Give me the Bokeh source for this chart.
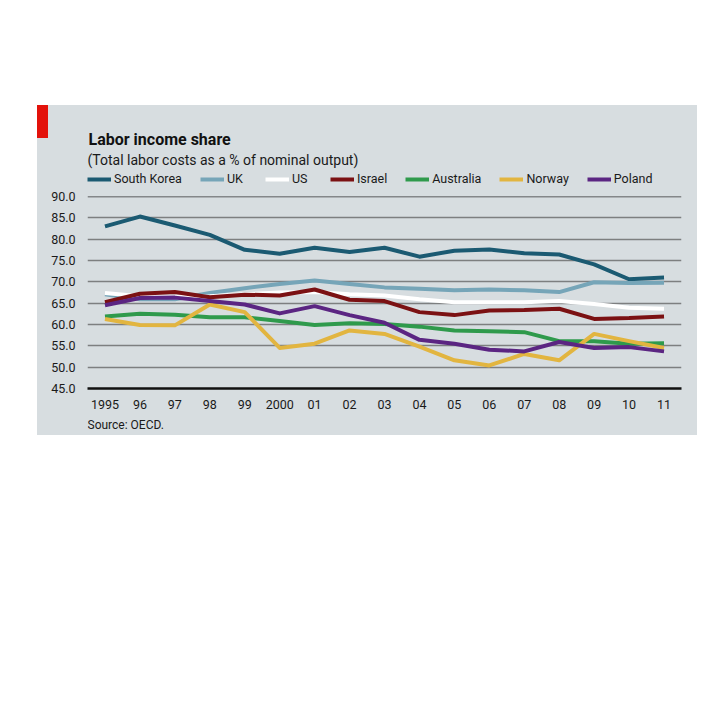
from bokeh.plotting import figure
from bokeh.models import (Range1d, FixedTicker, Label, Legend, LegendItem,
                          Spacer, NumeralTickFormatter, Span, Div)
from bokeh.layouts import column, row
from bokeh.embed import file_html
from bokeh.resources import INLINE

years = list(range(1995, 2012))
x_tick_labels = ["1995", "96", "97", "98", "99", "2000", "01", "02", "03",
                 "04", "05", "06", "07", "08", "09", "10", "11"]
y_ticks = [45, 50, 55, 60, 65, 70, 75, 80, 85, 90]

south_korea = [83.0, 85.3, 83.2, 81.0, 77.5, 76.6, 78.0, 77.0, 78.0, 75.9, 77.3, 77.6, 76.7, 76.4, 74.1, 70.6, 71.0]
uk = [67.1, 65.9, 65.9, 67.4, 68.5, 69.5, 70.3, 69.5, 68.7, 68.4, 68.0, 68.2, 68.0, 67.6, 69.9, 69.7, 69.8]
us = [67.4, 66.6, 66.4, 66.6, 67.1, 67.5, 67.6, 67.1, 66.8, 65.9, 65.2, 65.2, 65.2, 65.5, 64.8, 63.9, 63.7]
israel = [65.2, 67.2, 67.6, 66.4, 67.0, 66.8, 68.2, 65.8, 65.5, 62.9, 62.2, 63.3, 63.4, 63.7, 61.3, 61.5, 61.9]
australia = [61.9, 62.5, 62.3, 61.7, 61.7, 60.8, 59.9, 60.3, 60.1, 59.5, 58.6, 58.4, 58.2, 56.1, 56.1, 55.5, 55.6]
norway = [61.3, 59.9, 59.8, 64.7, 62.9, 54.5, 55.5, 58.6, 57.8, 54.8, 51.6, 50.4, 53.1, 51.6, 57.8, 56.1, 54.5]
poland = [64.5, 66.2, 66.3, 65.5, 64.7, 62.6, 64.3, 62.2, 60.4, 56.4, 55.5, 54.1, 53.7, 55.9, 54.5, 54.7, 53.7]

series_names = ["South Korea", "UK", "US", "Israel", "Australia", "Norway", "Poland"]
series_values = [south_korea, uk, us, israel, australia, norway, poland]
series_colors = ["#1b5a72", "#76a5b8", "#ffffff", "#7b1113", "#2f9a4c", "#e2b540", "#5b2582"]

FONT = "Roboto"
BG = "#d7dde0"
TXT = "#1a1a1a"
W = 649
LEFT = 37
RIGHT = 16


def style(f):
    f.background_fill_color = BG
    f.border_fill_color = BG
    f.outline_line_color = None


def blank(height):
    f = figure(width=W, height=height, output_backend="svg",
               toolbar_location=None, x_axis_location=None,
               y_axis_location=None, x_range=Range1d(0, 1),
               y_range=Range1d(0, 1), min_border_left=LEFT,
               min_border_right=RIGHT, min_border_top=0, min_border_bottom=0)
    style(f)
    f.grid.grid_line_color = None
    return f


# ---- header: title, subtitle, legend ----
header = blank(81)
header.add_layout(Label(x=1, y=47, x_units="screen", y_units="screen",
                        text="Labor income share", text_font=FONT,
                        text_font_size="16px", text_font_style="bold",
                        text_color="#111111", text_baseline="alphabetic"))
header.add_layout(Label(x=0, y=27, x_units="screen", y_units="screen",
                        text="(Total labor costs as a % of nominal output)",
                        text_font=FONT, text_font_size="14px",
                        text_color=TXT, text_baseline="alphabetic"))

# legend key lines: same series, drawn in the header where they fall outside
# its (0..1) view, so only their legend swatches are seen
items = []
for name, vals, col in zip(series_names, series_values, series_colors):
    r = header.line(years, vals, line_color=col, line_width=4)
    items.append(LegendItem(label=name, renderers=[r]))
legend = Legend(items=items, orientation="horizontal", location=(0, 0),
                glyph_width=24, glyph_height=12, label_height=12,
                label_standoff=3, spacing=18, padding=0, margin=0,
                background_fill_alpha=0, border_line_color=None,
                label_text_font=FONT, label_text_font_size="12.5px",
                label_text_color=TXT)
header.add_layout(legend, "center")

# ---- main chart ----
p = figure(width=W, height=225, output_backend="svg", toolbar_location=None,
           x_range=Range1d(1994.5, 2011.5), y_range=Range1d(45, 90),
           min_border_left=LEFT, min_border_right=RIGHT, min_border_top=10,
           min_border_bottom=23)
style(p)

p.xgrid.grid_line_color = None
p.ygrid.ticker = FixedTicker(ticks=y_ticks)
p.ygrid.grid_line_color = "#7d7f80"
p.ygrid.grid_line_width = 1.4
p.add_layout(Span(location=y_ticks[-1], dimension="width",
                  line_color="#333333", line_width=1.4))

p.yaxis.ticker = FixedTicker(ticks=y_ticks)
p.yaxis.formatter = NumeralTickFormatter(format="0.0")
p.yaxis.axis_line_color = None
p.yaxis.major_tick_line_color = None
p.yaxis.minor_tick_line_color = None
p.yaxis.major_label_standoff = 6
p.yaxis.major_label_text_font = FONT
p.yaxis.major_label_text_font_size = "12.5px"
p.yaxis.major_label_text_color = TXT

p.xaxis.ticker = FixedTicker(ticks=years)
p.xaxis.major_label_overrides = {y: l for y, l in zip(years, x_tick_labels)}
p.xaxis.axis_line_color = "#111111"
p.xaxis.axis_line_width = 2.5
p.xaxis.major_tick_line_color = None
p.xaxis.minor_tick_line_color = None
p.xaxis.major_label_standoff = 5
p.xaxis.major_label_text_font = FONT
p.xaxis.major_label_text_font_size = "12.5px"
p.xaxis.major_label_text_color = TXT

for vals, col in zip(series_values, series_colors):
    p.line(years, vals, line_color=col, line_width=4, line_join="round")

# ---- footer: source ----
footer = blank(24)
footer.add_layout(Label(x=0, y=11, x_units="screen", y_units="screen",
                        text="Source: OECD.", text_font=FONT,
                        text_font_size="12px", text_color=TXT,
                        text_baseline="alphabetic"))

# ---- red tab strip on the left edge ----
red_tab = Div(width=11, height=33, margin=0,
              styles={"background-color": "#e3120b"})
strip = Div(width=11, height=330 - 33, margin=0,
            styles={"background-color": BG})

chart = column(header, p, footer, spacing=0,
               styles={"background-color": BG})
panel = row(column(red_tab, strip, spacing=0), chart, spacing=0,
            styles={"background-color": BG})
layout = column(Spacer(height=105), row(Spacer(width=37), panel))
open("out.html", "w").write(file_html(layout, INLINE))
